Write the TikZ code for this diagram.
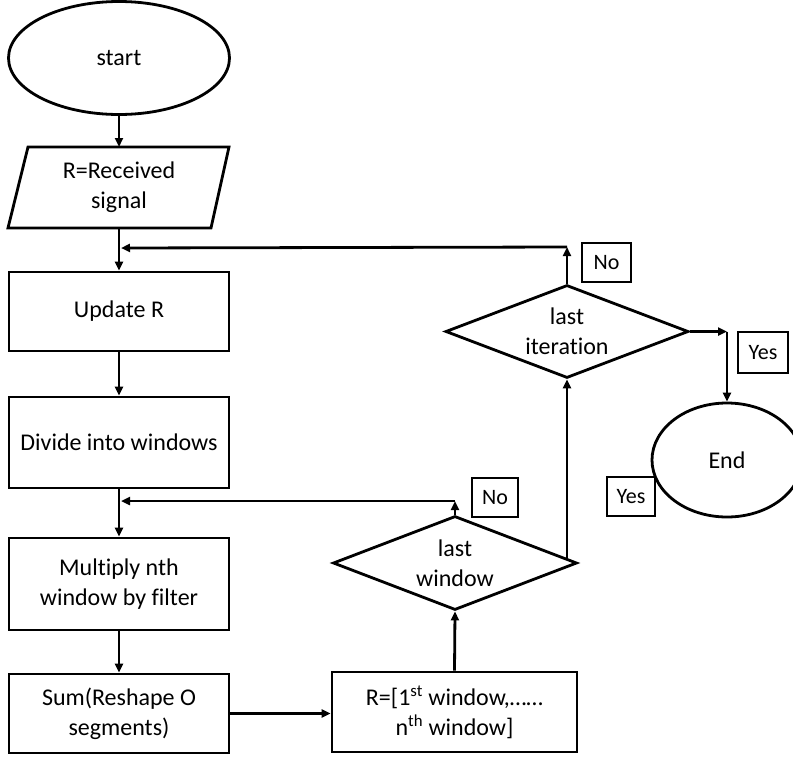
\documentclass[tikz,border=0pt]{standalone}
\usepackage{fontspec}
\setmainfont[Ligatures=NoCommon]{Carlito}
\usetikzlibrary{shapes.geometric,arrows.meta,calc}
\begin{document}
\begin{tikzpicture}[x=1pt,y=-1pt,
  ln/.style={line width=2.8pt},
  arr/.style={ln,-{Triangle[length=9pt,width=8pt]}},
  txt/.style={font=\fontsize{24}{30}\selectfont,align=center},
  proc/.style={draw,ln,rectangle,minimum width=220pt,inner sep=0pt,txt},
  term/.style={draw,ln,ellipse,inner sep=0pt,txt},
  dec/.style={draw,ln,diamond,inner sep=0pt},
  lab/.style={draw,ln,rectangle,fill=white,inner sep=0pt,font=\fontsize{22}{26}\selectfont}
]
\useasboundingbox (0,0) rectangle (793,761);
\clip (0,0) rectangle (793,761);

% terminals
\node[term,minimum width=221pt,minimum height=113pt] (start) at (119,58) {start};
\node[term,minimum width=150pt,minimum height=114pt] (end) at (727,460) {End};

% input parallelogram
\node[minimum width=221pt,minimum height=81pt,inner sep=0pt,txt] (para) at (119,187.5) {R=Received\\signal};
\draw[ln,line join=miter] (28,147) -- (229,147) -- (211,228) -- (8,228) -- cycle;

% process boxes
\node[proc,minimum height=79pt] (update) at (119,311.5) {Update R};
\node[proc,minimum height=91pt] (divide) at (119,442.5) {Divide into windows};
\node[proc,minimum height=92pt] (mult) at (119,584) {Multiply nth\\window by filter};
\node[proc,minimum height=79pt] (sum) at (119,713.5) {Sum(Reshape O\\segments)};
\node[proc,minimum width=245pt,minimum height=80pt] (rbox) at (454.5,712) {R=[1\textsuperscript{st} window,……\\n\textsuperscript{th} window]};

% decisions
\node[dec,minimum width=244pt,minimum height=94pt] (lw) at (455,563) {};
\node[txt] at (lw) {last\\window};
\node[dec,minimum width=243pt,minimum height=93pt] (li) at (567,331.5) {};
\node[txt] at (li) {last\\iteration};

% helper coordinates
\coordinate (j1) at (121,248);
\coordinate (j2) at (121,501);
\coordinate (c1) at (455,501);
\coordinate (c2) at (567,247);
\coordinate (c3) at (727,331.5);
\coordinate (lwe) at (567,559);

% connectors
\draw[arr] (start.south) -- (para.south |- 0,147);
\draw[arr] (para.south) -- (update.north);
\draw[arr] (update.south) -- (divide.north);
\draw[arr] (divide.south) -- (mult.north);
\draw[arr] (mult.south) -- (sum.north);
\draw[arr] (sum.east) -- (rbox.west |- sum.east);
\draw[arr] (rbox.north) -- (lw.south);
\draw[arr] (lw.north) -- (c1);
\draw[arr] (c1) -- (j2);
\draw[arr] (lwe) -- (li.south);
\draw[arr] (li.north) -- (c2);
\draw[arr] (c2) -- (j1);
\draw[arr] (li.east) -- (c3);
\draw[arr] (c3) -- (end.north);

% labels
\node[lab,minimum width=46pt,minimum height=39pt] (no1) at (495,497.5) {No};
\node[lab,minimum width=49pt,minimum height=39pt] (no2) at (606.5,262.5) {No};
\node[lab,minimum width=50pt,minimum height=41pt] (yes1) at (763,352.5) {Yes};
\node[lab,minimum width=48pt,minimum height=39pt] (yes2) at (631,496.5) {Yes};
\end{tikzpicture}
\end{document}
